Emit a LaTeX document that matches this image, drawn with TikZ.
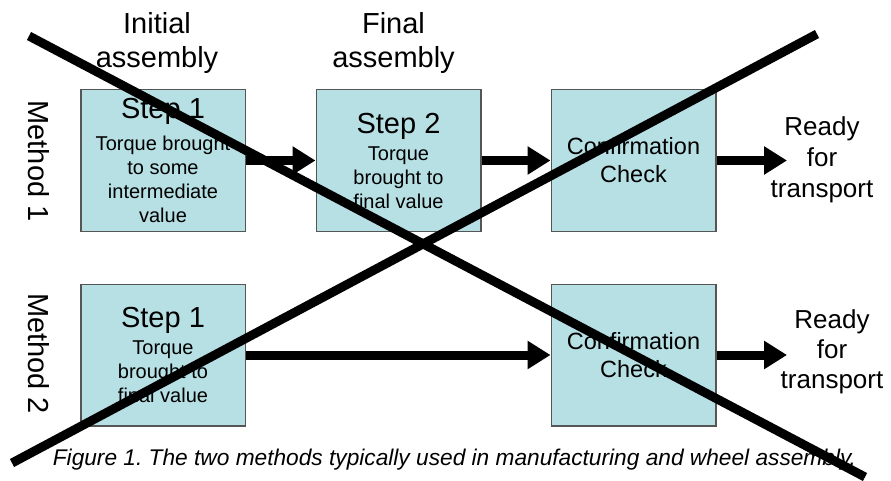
\documentclass[tikz,border=0pt]{standalone}
\usepackage{fontspec}
\setmainfont{Liberation Sans}
\usetikzlibrary{arrows.meta}
\frenchspacing
\definecolor{boxfill}{RGB}{183,224,228}
\definecolor{boxline}{RGB}{85,85,85}
\tikzset{every picture/.style={line width=1.5pt},
  stage/.style={draw=boxline, fill=boxfill, minimum width=164.5pt, minimum height=141.5pt,
    inner sep=0pt, align=center, font=\fontsize{20}{24}\selectfont},
  heading/.style={inner sep=0pt, align=center, font=\fontsize{29}{34}\selectfont},
  ready/.style={inner sep=0pt, align=center, font=\fontsize{26}{31}\selectfont},
  flow/.style={line width=9pt, -{Triangle[length=23pt,width=27pt]}},
  cross/.style={line width=9pt}}
\newcommand{\stephead}[1]{{\fontsize{29}{34}\selectfont Step #1}}

\begin{document}
\begin{tikzpicture}[x=1pt,y=-1pt]
\useasboundingbox (0,0) rectangle (891,481);
\node[heading] (init) at (157,42.6) {Initial\\assembly};
\node[heading] (fin) at (393.5,42.6) {Final\\assembly};
\node[heading, rotate=-90] (meth1) at (39,161) {Method 1};
\node[heading, rotate=-90] (meth2) at (39,353.5) {Method 2};

\node[stage] (s1a) at (163,160.5) {\stephead{1}\\[8pt]Torque brought\\to some\\intermediate\\value};
\node[stage] (s2a) at (398.5,160.5) {\stephead{2}\\[3pt]Torque\\brought to\\final value};
\node[stage, font=\fontsize{23.5}{28}\selectfont] (c1) at (633.5,160.5) {Confirmation\\Check};
\node[ready] (r1) at (822,159.5) {Ready\\for\\transport};
\coordinate (e1) at (787,160.5);

\node[stage] (s1b) at (163,355) {\stephead{1}\\[3pt]Torque\\brought to\\final value};
\node[stage, font=\fontsize{23.5}{28}\selectfont] (c2) at (633.5,355) {Confirmation\\Check};
\node[ready, font=\fontsize{26}{30}\selectfont] (r2) at (832,351.5) {Ready\\for\\transport};
\coordinate (e2) at (787,355);

\draw[flow] (s1a) -- (s2a);
\draw[flow] (s2a) -- (c1);
\draw[flow] (c1) -- (e1);
\draw[flow] (s1b) -- (c2);
\draw[flow] (c2) -- (e2);

\node[anchor=base, inner sep=0pt, font=\fontsize{22.7}{27}\selectfont\itshape] (cap) at (454.5,465)
  {Figure 1. The two methods typically used in manufacturing and wheel assembly.};

\draw[cross] (29,36) -- (865,477);
\draw[cross] (817,34) -- (12,463);
\end{tikzpicture}
\end{document}
